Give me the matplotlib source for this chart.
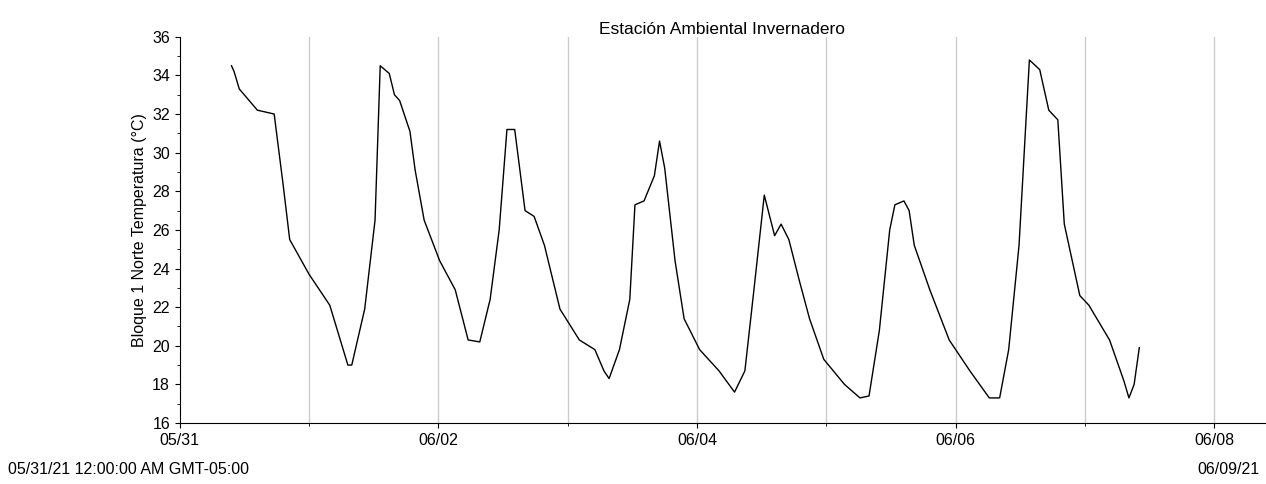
import numpy as np
import matplotlib
matplotlib.use('Agg')
from matplotlib import pyplot as plt
from matplotlib.ticker import MultipleLocator, FixedLocator

# days since 05/31 00:00 and temperature (C)
days = [0.40, 0.42, 0.46, 0.60, 0.73, 0.80, 0.85, 1.00, 1.16, 1.30, 1.33, 1.43, 1.51, 1.55, 1.62,
        1.66, 1.70, 1.78, 1.82, 1.89, 2.01, 2.13, 2.23, 2.32, 2.40, 2.47, 2.53, 2.59, 2.67,
        2.74, 2.82, 2.94, 3.09, 3.21, 3.28, 3.32, 3.40, 3.48, 3.52, 3.59, 3.67, 3.71, 3.75,
        3.83, 3.90, 4.02, 4.17, 4.29, 4.37, 4.44, 4.52, 4.60, 4.65, 4.71, 4.79, 4.87, 4.98,
        5.14, 5.26, 5.33, 5.41, 5.49, 5.53, 5.60, 5.64, 5.68, 5.80, 5.95, 6.11, 6.26, 6.34,
        6.41, 6.49, 6.57, 6.65, 6.72, 6.79, 6.84, 6.96, 7.03, 7.19, 7.30, 7.34, 7.38, 7.42]
temp = [34.5, 34.2, 33.3, 32.2, 32.0, 28.3, 25.5, 23.7, 22.1, 19.0, 19.0, 21.9, 26.5, 34.5, 34.1,
        33.0, 32.7, 31.1, 29.1, 26.5, 24.4, 22.9, 20.3, 20.2, 22.4, 26.0, 31.2, 31.2, 27.0,
        26.7, 25.2, 21.9, 20.3, 19.8, 18.7, 18.3, 19.8, 22.4, 27.3, 27.5, 28.8, 30.6, 29.2,
        24.4, 21.4, 19.8, 18.7, 17.6, 18.7, 22.9, 27.8, 25.7, 26.3, 25.5, 23.4, 21.4, 19.3,
        18.0, 17.3, 17.4, 20.8, 26.0, 27.3, 27.5, 27.0, 25.2, 22.9, 20.3, 18.7, 17.3, 17.3,
        19.8, 25.2, 34.8, 34.3, 32.2, 31.7, 26.3, 22.6, 22.1, 20.3, 18.2, 17.3, 18.0, 19.9]
tick_labels = ['05/31', '06/02', '06/04', '06/06', '06/08']

plt.rcParams['font.family'] = 'Liberation Sans'
fig = plt.figure(figsize=(12.66, 4.84), dpi=100)
ax = fig.add_axes([0.142, 0.126, 0.857, 0.798])
ax.plot(days, temp, color='black', lw=1)
ax.set_xlim(0, 8.39)
ax.set_ylim(16, 36)
ax.xaxis.set_major_locator(FixedLocator([0, 2, 4, 6, 8]))
ax.set_xticklabels(tick_labels)
ax.xaxis.set_minor_locator(MultipleLocator(1))
ax.yaxis.set_major_locator(MultipleLocator(2))
ax.yaxis.set_minor_locator(MultipleLocator(1))
for d in range(1, 9):
    ax.axvline(d, color='#cccccc', lw=1, zorder=0)
for s in ['top', 'right']:
    ax.spines[s].set_visible(False)
ax.tick_params(labelsize=11.5)
ax.set_ylabel('Bloque 1 Norte Temperatura (°C)', fontsize=11.5)
ax.set_title('Estación Ambiental Invernadero', fontsize=12.5, pad=2)
fig.text(0.006, 0.02, '05/31/21 12:00:00 AM GMT-05:00', fontsize=11.5)
fig.text(0.995, 0.02, '06/09/21', fontsize=11.5, ha='right')
fig.savefig('out.png')
